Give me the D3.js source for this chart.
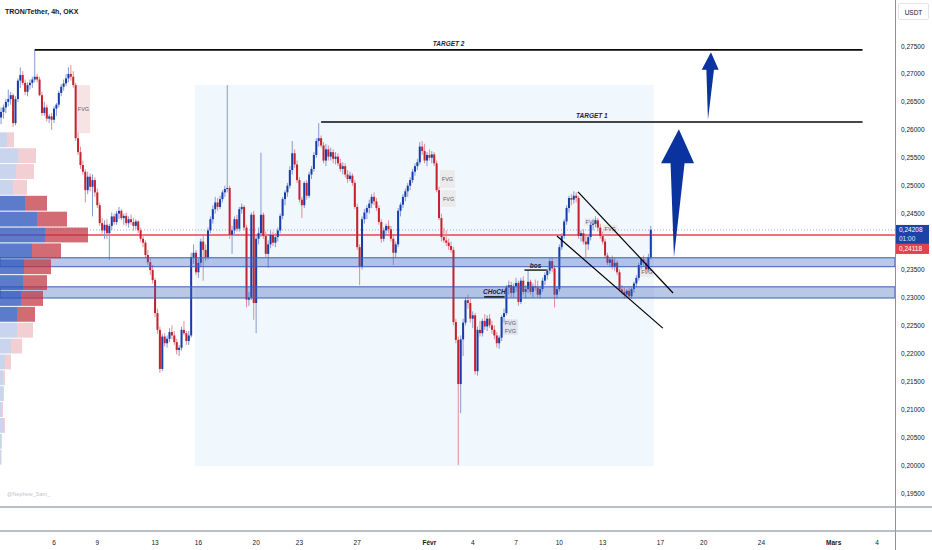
<!DOCTYPE html>
<html>
<head>
<meta charset="utf-8">
<script src="https://cdn.jsdelivr.net/npm/d3@7"></script>
<style>
  body { margin: 0; background: #fff; }
  svg { display: block; font-family: "Liberation Sans", Arial, sans-serif; }
</style>
</head>
<body>
<svg id="chart" width="932" height="550"></svg>
<script>
// TRON/Tether 4h, OKX
const startTime = new Date(2025, 0, 2, 4); // first 4h bar
const barHours = 4;
// [open, high, low, close], one row per 4h bar
const candles = [
  // Jan 2
  [.2585,.2628,.2575,.2622],[.2622,.2640,.2610,.2632],[.2632,.2645,.2620,.2640],[.2640,.2655,.2630,.2650],[.2650,.2672,.2642,.2655],
  // Jan 3
  [.2655,.2668,.2645,.2662],[.2662,.2665,.2605,.2612],[.2612,.2660,.2608,.2655],[.2655,.2692,.2650,.2688],[.2688,.2712,.2675,.2698],[.2698,.2705,.2680,.2684],
  // Jan 4
  [.2684,.2690,.2662,.2668],[.2668,.2685,.2660,.2680],[.2680,.2690,.2672,.2684],[.2684,.2695,.2675,.2690],[.2690,.2743,.2685,.2695],[.2695,.2700,.2685,.2690],
  // Jan 5
  [.2690,.2695,.2660,.2662],[.2662,.2668,.2625,.2630],[.2630,.2650,.2625,.2640],[.2640,.2645,.2615,.2620],[.2620,.2628,.2612,.2624],[.2624,.2630,.2600,.2618],
  // Jan 6
  [.2618,.2642,.2612,.2638],[.2638,.2648,.2625,.2645],[.2645,.2670,.2640,.2666],[.2666,.2682,.2660,.2677],[.2677,.2690,.2670,.2683],[.2683,.2700,.2678,.2692],
  // Jan 7
  [.2692,.2712,.2685,.2700],[.2700,.2716,.2688,.2695],[.2695,.2705,.2675,.2680],[.2680,.2684,.2580,.2585],[.2585,.2595,.2555,.2560],[.2560,.2570,.2530,.2537],
  // Jan 8
  [.2537,.2545,.2520,.2525],[.2525,.2530,.2470,.2492],[.2492,.2525,.2485,.2516],[.2516,.2522,.2490,.2498],[.2498,.2520,.2445,.2510],[.2510,.2515,.2480,.2488],
  // Jan 9
  [.2488,.2495,.2460,.2465],[.2465,.2470,.2428,.2433],[.2433,.2442,.2415,.2420],[.2420,.2438,.2405,.2430],[.2430,.2440,.2405,.2415],[.2415,.2432,.2367,.2428],
  // Jan 10
  [.2428,.2452,.2420,.2445],[.2445,.2450,.2430,.2435],[.2435,.2455,.2430,.2450],[.2450,.2462,.2440,.2455],[.2455,.2458,.2438,.2442],[.2442,.2450,.2430,.2446],
  // Jan 11
  [.2446,.2452,.2428,.2433],[.2433,.2445,.2425,.2440],[.2440,.2448,.2430,.2435],[.2435,.2442,.2420,.2428],[.2428,.2440,.2422,.2436],[.2436,.2438,.2415,.2420],
  // Jan 12
  [.2420,.2425,.2400,.2405],[.2405,.2412,.2390,.2398],[.2398,.2402,.2370,.2376],[.2376,.2385,.2358,.2363],[.2363,.2370,.2340,.2349],[.2349,.2358,.2325,.2331],
  // Jan 13
  [.2331,.2335,.2265,.2272],[.2272,.2280,.2235,.2242],[.2242,.2248,.2165,.2172],[.2172,.2235,.2168,.2230],[.2230,.2236,.2212,.2218],[.2218,.2232,.2210,.2226],
  // Jan 14
  [.2226,.2245,.2220,.2238],[.2238,.2250,.2225,.2232],[.2232,.2240,.2215,.2220],[.2220,.2226,.2198,.2206],[.2206,.2215,.2195,.2210],[.2210,.2248,.2205,.2242],
  // Jan 15
  [.2242,.2258,.2232,.2236],[.2236,.2240,.2215,.2222],[.2222,.2240,.2215,.2232],[.2232,.2380,.2228,.2372],[.2372,.2395,.2360,.2380],[.2380,.2385,.2340,.2345],
  // Jan 16
  [.2345,.2370,.2335,.2362],[.2362,.2405,.2355,.2400],[.2400,.2410,.2330,.2385],[.2385,.2395,.2365,.2372],[.2372,.2425,.2368,.2420],[.2420,.2445,.2415,.2440],
  // Jan 17
  [.2440,.2465,.2432,.2458],[.2458,.2480,.2450,.2470],[.2470,.2478,.2455,.2462],[.2462,.2482,.2458,.2476],[.2476,.2492,.2470,.2488],[.2488,.2500,.2480,.2494],
  // Jan 18
  [.2494,.2680,.2488,.2496],[.2496,.2500,.2405,.2412],[.2412,.2428,.2378,.2420],[.2420,.2445,.2412,.2440],[.2440,.2448,.2418,.2423],[.2423,.2462,.2418,.2458],
  // Jan 19
  [.2458,.2468,.2450,.2462],[.2462,.2465,.2420,.2425],[.2425,.2430,.2282,.2296],[.2296,.2310,.2285,.2300],[.2300,.2452,.2295,.2448],[.2448,.2455,.2260,.2290],
  // Jan 20
  [.2290,.2412,.2236,.2405],[.2405,.2425,.2395,.2415],[.2415,.2559,.2408,.2448],[.2448,.2452,.2405,.2410],[.2410,.2418,.2372,.2378],[.2378,.2402,.2353,.2395],
  // Jan 21
  [.2395,.2420,.2388,.2412],[.2412,.2418,.2392,.2398],[.2398,.2415,.2390,.2408],[.2408,.2425,.2400,.2420],[.2420,.2450,.2415,.2446],[.2446,.2480,.2440,.2476],
  // Jan 22
  [.2476,.2492,.2465,.2488],[.2488,.2505,.2480,.2500],[.2500,.2535,.2495,.2528],[.2528,.2580,.2520,.2558],[.2558,.2565,.2532,.2538],[.2538,.2545,.2505,.2510],
  // Jan 23
  [.2510,.2515,.2470,.2475],[.2475,.2480,.2442,.2465],[.2465,.2508,.2460,.2505],[.2505,.2510,.2475,.2482],[.2482,.2525,.2478,.2520],[.2520,.2535,.2512,.2530],
  // Jan 24
  [.2530,.2560,.2525,.2555],[.2555,.2585,.2550,.2580],[.2580,.2612,.2570,.2585],[.2585,.2590,.2568,.2572],[.2572,.2578,.2540,.2545],[.2545,.2575,.2535,.2565],
  // Jan 25
  [.2565,.2572,.2545,.2552],[.2552,.2568,.2545,.2560],[.2560,.2565,.2540,.2548],[.2548,.2560,.2538,.2552],[.2552,.2558,.2535,.2540],[.2540,.2548,.2525,.2530],
  // Jan 26
  [.2530,.2542,.2520,.2535],[.2535,.2540,.2515,.2520],[.2520,.2528,.2505,.2512],[.2512,.2525,.2508,.2518],[.2518,.2522,.2500,.2505],[.2505,.2510,.2458,.2462],
  // Jan 27
  [.2462,.2468,.2385,.2390],[.2390,.2395,.2322,.2355],[.2355,.2445,.2350,.2440],[.2440,.2458,.2432,.2452],[.2452,.2465,.2440,.2460],[.2460,.2475,.2450,.2468],
  // Jan 28
  [.2468,.2485,.2460,.2480],[.2480,.2488,.2465,.2472],[.2472,.2478,.2455,.2460],[.2460,.2465,.2430,.2435],[.2435,.2440,.2398,.2405],[.2405,.2425,.2400,.2420],
  // Jan 29
  [.2420,.2432,.2412,.2428],[.2428,.2438,.2415,.2422],[.2422,.2428,.2400,.2405],[.2405,.2410,.2358,.2380],[.2380,.2400,.2372,.2395],[.2395,.2460,.2390,.2455],
  // Jan 30
  [.2455,.2470,.2445,.2466],[.2466,.2485,.2460,.2480],[.2480,.2495,.2472,.2490],[.2490,.2505,.2480,.2500],[.2500,.2515,.2492,.2510],[.2510,.2530,.2505,.2525],
  // Jan 31
  [.2525,.2540,.2518,.2535],[.2535,.2548,.2528,.2542],[.2542,.2578,.2538,.2570],[.2570,.2580,.2555,.2562],[.2562,.2575,.2540,.2545],[.2545,.2560,.2535,.2555],
  // Feb 1
  [.2555,.2565,.2545,.2550],[.2550,.2562,.2540,.2556],[.2556,.2560,.2535,.2540],[.2540,.2545,.2488,.2492],[.2492,.2498,.2438,.2442],[.2442,.2450,.2400,.2408],
  // Feb 2
  [.2408,.2425,.2398,.2402],[.2402,.2420,.2392,.2398],[.2398,.2405,.2385,.2392],[.2392,.2400,.2380,.2385],[.2385,.2390,.2250,.2256],[.2256,.2262,.2218,.2224],
  // Feb 3
  [.2224,.2230,.2000,.2145],[.2145,.2232,.2093,.2225],[.2225,.2262,.2195,.2255],[.2255,.2300,.2250,.2295],[.2295,.2305,.2280,.2290],[.2290,.2298,.2255,.2262],
  // Feb 4
  [.2262,.2275,.2245,.2268],[.2268,.2272,.2162,.2168],[.2168,.2248,.2160,.2242],[.2242,.2258,.2230,.2236],[.2236,.2262,.2230,.2258],[.2258,.2270,.2242,.2248],
  // Feb 5
  [.2248,.2268,.2240,.2262],[.2262,.2270,.2245,.2250],[.2250,.2258,.2235,.2242],[.2242,.2250,.2225,.2232],[.2232,.2238,.2210,.2218],[.2218,.2232,.2208,.2228],
  // Feb 6
  [.2228,.2268,.2222,.2265],[.2265,.2280,.2255,.2272],[.2272,.2322,.2268,.2318],[.2318,.2330,.2305,.2322],[.2322,.2328,.2300,.2308],[.2308,.2325,.2300,.2320],
  // Feb 7
  [.2320,.2335,.2310,.2326],[.2326,.2330,.2285,.2292],[.2292,.2335,.2288,.2330],[.2330,.2338,.2305,.2310],[.2310,.2322,.2298,.2315],[.2315,.2349,.2308,.2328],
  // Feb 8
  [.2328,.2332,.2305,.2310],[.2310,.2325,.2300,.2320],[.2320,.2332,.2312,.2318],[.2318,.2330,.2300,.2305],[.2305,.2320,.2298,.2315],[.2315,.2335,.2310,.2330],
  // Feb 9
  [.2330,.2345,.2322,.2340],[.2340,.2352,.2332,.2348],[.2348,.2370,.2342,.2365],[.2365,.2372,.2345,.2352],[.2352,.2358,.2282,.2305],[.2305,.2320,.2298,.2315],
  // Feb 10
  [.2315,.2395,.2310,.2390],[.2390,.2415,.2385,.2410],[.2410,.2440,.2405,.2436],[.2436,.2465,.2430,.2460],[.2460,.2482,.2452,.2478],[.2478,.2485,.2465,.2475],
  // Feb 11
  [.2475,.2490,.2468,.2482],[.2482,.2488,.2470,.2478],[.2478,.2482,.2405,.2410],[.2410,.2420,.2400,.2415],[.2415,.2422,.2395,.2400],[.2400,.2410,.2372,.2395],
  // Feb 12
  [.2395,.2412,.2385,.2408],[.2408,.2435,.2402,.2430],[.2430,.2440,.2420,.2432],[.2432,.2445,.2425,.2438],[.2438,.2442,.2418,.2425],[.2425,.2432,.2405,.2410],
  // Feb 13
  [.2410,.2418,.2395,.2400],[.2400,.2405,.2370,.2375],[.2375,.2380,.2358,.2362],[.2362,.2372,.2355,.2368],[.2368,.2375,.2350,.2355],[.2355,.2370,.2348,.2362],
  // Feb 14
  [.2362,.2366,.2340,.2345],[.2345,.2350,.2310,.2314],[.2314,.2322,.2305,.2310],[.2310,.2318,.2298,.2305],[.2305,.2315,.2300,.2312],[.2312,.2318,.2298,.2302],
  // Feb 15
  [.2302,.2318,.2298,.2315],[.2315,.2328,.2308,.2325],[.2325,.2340,.2318,.2335],[.2335,.2362,.2330,.2358],[.2358,.2372,.2350,.2368],[.2368,.2375,.2355,.2362],
  // Feb 16
  [.2362,.2368,.2345,.2350],[.2350,.2378,.2345,.2372],[.2372,.2428,.2368,.2421]
];

const lastPrice = 0.24208;
const lastCountdown = "01:00";
const redLevel = 0.24118;

// horizontal support zones [top, bottom]
const zones = [[0.2371, 0.2355], [0.2319, 0.2299]];

// visible-range volume profile, bins from the bottom up
const profileStart = 0.2000;
const profileStep = 0.00284;
const profileUp   = [1, 1, 4, 2, 3, 3, 5, 11, 17, 17, 21, 23, 24, 32, 45, 37, 25, 13, 16, 18, 7];
const profileDown = [0.5, 1, 1, 1, 1, 2, 6, 11, 16, 18, 22, 24, 27, 29, 43, 30, 22, 14, 18, 18, 7];
const valueArea = [9, 16];

// highlighted range
const rangeBox = { t0: "2025-01-15T18:00", t1: "2025-02-16T13:00", top: 0.2680, bottom: 0.1998 };

const targets = [
  { name: "TARGET 2", t0: "2025-01-04T16:00", t1: "2025-03-03T00:00", price: 0.2743 },
  { name: "TARGET 1", t0: "2025-01-24T12:00", t1: "2025-03-03T00:00", price: 0.2614 }
];

const fvgs = [
  { t0: "2025-01-07T14:00", t1: "2025-01-08T12:00", top: 0.2680, bottom: 0.2594, kind: "bear" },
  { t0: "2025-02-01T17:30", t1: "2025-02-02T18:30", top: 0.2528, bottom: 0.2496, kind: "grey" },
  { t0: "2025-02-01T20:00", t1: "2025-02-02T20:00", top: 0.2492, bottom: 0.2462, kind: "grey" },
  { t0: "2025-02-06T02:00", t1: "2025-02-07T03:00", top: 0.2261, bottom: 0.2247, kind: "bull" },
  { t0: "2025-02-06T02:00", t1: "2025-02-07T03:00", top: 0.2247, bottom: 0.2233, kind: "bull" },
  { t0: "2025-02-11T18:00", t1: "2025-02-12T16:00", top: 0.2442, bottom: 0.2428, kind: "grey" },
  { t0: "2025-02-13T00:00", t1: "2025-02-14T01:00", top: 0.2430, bottom: 0.2415, kind: "grey" },
  { t0: "2025-02-15T14:00", t1: "2025-02-16T13:00", top: 0.2353, bottom: 0.2337, kind: "grey" }
];

// wedge trend lines [[time, price], [time, price]]
const trendLines = [
  [["2025-02-11T07:00", 0.2489], ["2025-02-17T21:00", 0.2308]],
  [["2025-02-09T20:00", 0.2410], ["2025-02-17T04:00", 0.2245]]
];

const structure = [
  { label: "bos",   t0: "2025-02-07T14:00", t1: "2025-02-09T03:00", price: 0.2349 },
  { label: "CHoCH", t0: "2025-02-04T19:00", t1: "2025-02-06T05:00", price: 0.2301 }
];

// arrows: tail (bottom) and head tip
const arrows = [
  { tail: ["2025-02-17T22:30", 0.2372], tip: ["2025-02-18T06:40", 0.2601], head: 0.266, headW: 16.5, shaftW: 7 },
  { tail: ["2025-02-20T07:00", 0.2618], tip: ["2025-02-20T12:00", 0.2739], head: 0.26, headW: 8.5, shaftW: 3.8 }
];

const priceTicks = [0.195, 0.200, 0.205, 0.210, 0.215, 0.220, 0.225, 0.230, 0.235, 0.240,
                    0.245, 0.250, 0.255, 0.260, 0.265, 0.270, 0.275];
const dateTicks = ["2025-01-06", "2025-01-09", "2025-01-13", "2025-01-16", "2025-01-20", "2025-01-23",
                   "2025-01-27", "2025-02-01", "2025-02-04", "2025-02-07", "2025-02-10", "2025-02-13",
                   "2025-02-17", "2025-02-20", "2025-02-24", "2025-03-01", "2025-03-04"];
const monthNames = ["Janv", "Févr", "Mars"];

// ---------------------------------------------------------------
const axisX = 895, paneBottom = 507, timeTop = 531;
const parse = s => new Date(s.length === 10 ? s + "T00:00" : s);

const svg = d3.select("#chart");
const x = d3.scaleTime()
  .domain([new Date(2025, 0, 6), new Date(2025, 2, 4)])
  .range([54, 877]);
const y = d3.scaleLinear().domain([0.195, 0.275]).range([493, 46]);

svg.append("defs").append("clipPath").attr("id", "plot")
  .append("rect").attr("x", 0).attr("y", 0).attr("width", axisX).attr("height", paneBottom);

const plot = svg.append("g").attr("clip-path", "url(#plot)");

// highlighted range box
plot.append("rect")
  .attr("x", x(parse(rangeBox.t0)))
  .attr("y", y(rangeBox.top))
  .attr("width", x(parse(rangeBox.t1)) - x(parse(rangeBox.t0)))
  .attr("height", y(rangeBox.bottom) - y(rangeBox.top))
  .attr("fill", "#f0f7fd");

// fair value gaps
const fvgFill = { bear: "#f6e4e5", grey: "#ecebec", bull: "#dfe4ef" };
const fv = plot.append("g").selectAll("g").data(fvgs).join("g");
fv.append("rect")
  .attr("x", d => x(parse(d.t0)))
  .attr("y", d => y(d.top))
  .attr("width", d => x(parse(d.t1)) - x(parse(d.t0)))
  .attr("height", d => y(d.bottom) - y(d.top))
  .attr("fill", d => fvgFill[d.kind]);
fv.append("text")
  .attr("x", d => (x(parse(d.t0)) + x(parse(d.t1))) / 2)
  .attr("y", d => (y(d.top) + y(d.bottom)) / 2)
  .attr("text-anchor", "middle")
  .attr("dominant-baseline", "central")
  .attr("font-size", 5.5)
  .attr("fill", "#5d606b")
  .text("FVG");

// price lines
plot.append("line")
  .attr("x1", 0).attr("x2", axisX)
  .attr("y1", y(redLevel)).attr("y2", y(redLevel))
  .attr("stroke", "#e8434f").attr("stroke-width", 1.5);
plot.append("line")
  .attr("x1", 0).attr("x2", axisX)
  .attr("y1", y(lastPrice)).attr("y2", y(lastPrice))
  .attr("stroke", "#7d97d8").attr("stroke-width", 0.8).attr("stroke-dasharray", "1,2");

// candles
const bars = candles.map((c, i) => ({
  t: new Date(startTime.getTime() + i * barHours * 3600e3),
  o: c[0], h: c[1], l: c[2], c: c[3]
}));
const barW = (x(new Date(2025, 0, 7)) - x(new Date(2025, 0, 6))) / 6;
const up = d => d.c >= d.o;
const cg = plot.append("g");
cg.selectAll("line").data(bars).join("line")
  .attr("x1", d => x(d.t)).attr("x2", d => x(d.t))
  .attr("y1", d => y(d.h)).attr("y2", d => y(d.l))
  .attr("stroke", d => up(d) ? "#8599d6" : "#e08d95")
  .attr("stroke-width", 1);
cg.selectAll("rect").data(bars).join("rect")
  .attr("x", d => x(d.t) - barW * 0.42)
  .attr("width", barW * 0.84)
  .attr("y", d => y(Math.max(d.o, d.c)))
  .attr("height", d => Math.max(1, Math.abs(y(d.o) - y(d.c))))
  .attr("fill", d => up(d) ? "#163ea8" : "#c4222f");

// support zones
const zg = plot.append("g");
zones.forEach(([top, bot]) => {
  zg.append("rect")
    .attr("x", 0).attr("width", axisX)
    .attr("y", y(top)).attr("height", y(bot) - y(top))
    .attr("fill", "#3f66bf").attr("fill-opacity", 0.36)
    .attr("stroke", "#3a5fb6").attr("stroke-width", 1);
});

// volume profile
const totals = profileUp.map((u, i) => u + profileDown[i]);
const vx = d3.scaleLinear().domain([0, d3.max(totals)]).range([0, 88]);
const rowH = y(profileStart) - y(profileStart + profileStep);
const pg = plot.append("g");
profileUp.forEach((u, i) => {
  const inVA = i >= valueArea[0] && i <= valueArea[1];
  const yTop = y(profileStart + (i + 1) * profileStep);
  pg.append("rect")
    .attr("x", 0).attr("y", yTop + 0.5)
    .attr("width", vx(u)).attr("height", rowH - 1)
    .attr("fill", inVA ? "#2f56bd" : "#9cb0de")
    .attr("fill-opacity", inVA ? 0.78 : 0.55);
  pg.append("rect")
    .attr("x", vx(u)).attr("y", yTop + 0.5)
    .attr("width", vx(profileDown[i])).attr("height", rowH - 1)
    .attr("fill", inVA ? "#c0323e" : "#e6a0a7")
    .attr("fill-opacity", inVA ? 0.72 : 0.5);
});

// targets
const tg = plot.append("g");
targets.forEach(t => {
  const x0 = x(parse(t.t0)), x1 = x(parse(t.t1));
  tg.append("line")
    .attr("x1", x0).attr("x2", x1).attr("y1", y(t.price)).attr("y2", y(t.price))
    .attr("stroke", "#0a0a0a").attr("stroke-width", 1.6);
  tg.append("text")
    .attr("x", (x0 + x1) / 2).attr("y", y(t.price) - 3.5)
    .attr("text-anchor", "middle")
    .attr("font-size", 6.5).attr("font-weight", "bold").attr("font-style", "italic")
    .attr("fill", "#1c2440")
    .text(t.name);
});

// wedge
trendLines.forEach(([a, b]) => {
  plot.append("line")
    .attr("x1", x(parse(a[0]))).attr("y1", y(a[1]))
    .attr("x2", x(parse(b[0]))).attr("y2", y(b[1]))
    .attr("stroke", "#000").attr("stroke-width", 1.2);
});

// structure labels
structure.forEach(s => {
  const x0 = x(parse(s.t0)), x1 = x(parse(s.t1));
  plot.append("line")
    .attr("x1", x0).attr("x2", x1).attr("y1", y(s.price)).attr("y2", y(s.price))
    .attr("stroke", "#000").attr("stroke-width", 1.3);
  plot.append("text")
    .attr("x", (x0 + x1) / 2).attr("y", y(s.price) - 2.5)
    .attr("text-anchor", "middle")
    .attr("font-size", 6.5).attr("font-weight", "bold").attr("font-style", "italic")
    .attr("fill", "#1c2440")
    .text(s.label);
});

// arrows
arrows.forEach(a => {
  const bx = x(parse(a.tail[0])), by = y(a.tail[1]);
  const tx = x(parse(a.tip[0])), ty = y(a.tip[1]);
  const hx = tx + (bx - tx) * a.head, hy = ty + (by - ty) * a.head;
  const pts = [[bx, by], [hx - a.shaftW, hy], [hx - a.headW, hy], [tx, ty],
               [hx + a.headW, hy], [hx + a.shaftW, hy]];
  plot.append("path")
    .attr("d", d3.line()(pts) + "Z")
    .attr("fill", "#0b33a0");
});

// watermark + title
svg.append("text").attr("x", 7).attr("y", 496)
  .attr("font-size", 5.5).attr("fill", "#c3c5cb").text("@Nephew_Sam_");
svg.append("text").attr("x", 5).attr("y", 14)
  .attr("font-size", 7).attr("font-weight", "bold").attr("fill", "#131722")
  .text("TRON/Tether, 4h, OKX");

// frame lines
svg.append("line").attr("x1", axisX + 0.5).attr("x2", axisX + 0.5).attr("y1", 0).attr("y2", 550)
  .attr("stroke", "#8d9099").attr("stroke-width", 1);
[paneBottom, timeTop].forEach(v => {
  svg.append("line").attr("x1", 0).attr("x2", 932).attr("y1", v).attr("y2", v)
    .attr("stroke", "#a5a8b0").attr("stroke-width", 1.5);
});

// right price axis
const priceFmt = v => d3.format(".5f")(v).replace(".", ",");
const lastY = y(lastPrice);
const ag = svg.append("g");
ag.selectAll("text").data(priceTicks.filter(v => Math.abs(y(v) - lastY) > 14)).join("text")
  .attr("x", 901).attr("y", d => y(d))
  .attr("dominant-baseline", "central")
  .attr("font-size", 6.5).attr("fill", "#131722")
  .text(priceFmt);

ag.append("rect").attr("x", 896).attr("y", lastY - 5).attr("width", 33).attr("height", 19)
  .attr("fill", "#1b44a6");
ag.append("text").attr("x", 899).attr("y", lastY).attr("dominant-baseline", "central")
  .attr("font-size", 6.5).attr("fill", "#fff").text(priceFmt(lastPrice));
ag.append("text").attr("x", 899).attr("y", lastY + 9).attr("dominant-baseline", "central")
  .attr("font-size", 6.5).attr("fill", "#dfe6f6").text(lastCountdown);
ag.append("rect").attr("x", 896).attr("y", lastY + 14).attr("width", 33).attr("height", 10)
  .attr("fill", "#e0424e");
ag.append("text").attr("x", 899).attr("y", lastY + 19).attr("dominant-baseline", "central")
  .attr("font-size", 6.5).attr("fill", "#fff").text(priceFmt(redLevel));

ag.append("rect").attr("x", 898.5).attr("y", 3.5).attr("width", 30).attr("height", 16)
  .attr("fill", "#fff").attr("stroke", "#e0e3eb").attr("rx", 1.5);
ag.append("text").attr("x", 913.5).attr("y", 12).attr("text-anchor", "middle")
  .attr("dominant-baseline", "central")
  .attr("font-size", 6.5).attr("fill", "#131722").text("USDT");

// bottom time axis
const dg = svg.append("g");
dateTicks.map(parse).forEach(d => {
  const isMonth = d.getDate() === 1;
  dg.append("text")
    .attr("x", x(d)).attr("y", 542)
    .attr("text-anchor", "middle").attr("dominant-baseline", "central")
    .attr("font-size", 6.5).attr("fill", "#131722")
    .attr("font-weight", isMonth ? "bold" : "normal")
    .text(isMonth ? monthNames[d.getMonth()] : d.getDate());
});
</script>
</body>
</html>
